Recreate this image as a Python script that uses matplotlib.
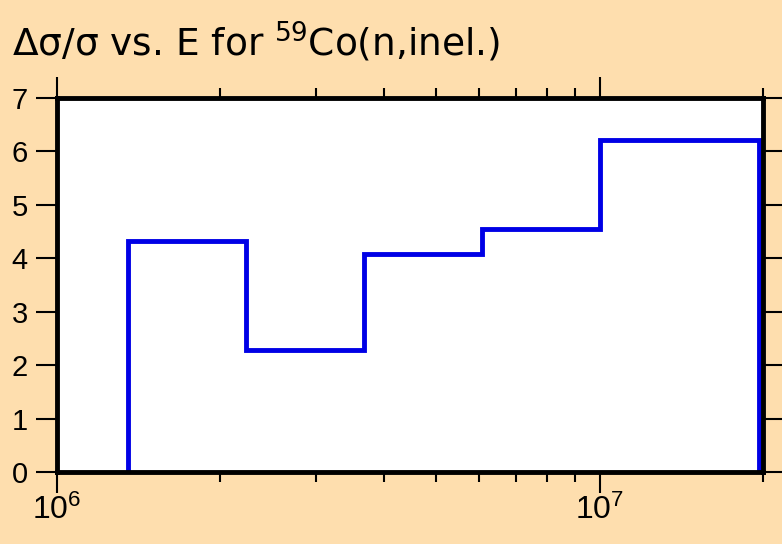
import numpy as np
import matplotlib
matplotlib.use("Agg")
import matplotlib.pyplot as plt
from matplotlib.ticker import LogLocator, LogFormatterSciNotation, NullFormatter, MultipleLocator

# energy bin edges (eV) and relative uncertainty per bin
edges = [1.354e6, 2.23e6, 3.68e6, 6.07e6, 1.0e7, 1.963e7]
rel_unc = [4.33, 2.28, 4.08, 4.55, 6.22]
x_range = (1.0e6, 2.0e7)
y_range = (0, 7)
title = "Δσ/σ vs. E for $^{59}$Co(n,inel.)"

plt.rcParams['font.family'] = ['Liberation Sans', 'DejaVu Sans']
plt.rcParams['mathtext.fontset'] = 'custom'
plt.rcParams['mathtext.rm'] = 'Liberation Sans'
plt.rcParams['mathtext.it'] = 'Liberation Sans'
plt.rcParams['mathtext.default'] = 'regular'

bg = '#fedeae'
fig = plt.figure(figsize=(7.82, 5.44), dpi=100, facecolor=bg)
ax = fig.add_axes([57/782, 72/544, 706/782, 374/544])
ax.set_facecolor('white')

ax.stairs(rel_unc, edges, baseline=0, color='#0000e6', linewidth=3.5, fill=False)

ax.set_xscale('log')
ax.set_xlim(*x_range)
ax.set_ylim(*y_range)
ax.xaxis.set_major_locator(LogLocator(base=10))
ax.xaxis.set_minor_locator(LogLocator(base=10, subs=np.arange(2, 10)))
ax.xaxis.set_major_formatter(LogFormatterSciNotation())
ax.xaxis.set_minor_formatter(NullFormatter())
ax.yaxis.set_major_locator(MultipleLocator(1))

for s in ax.spines.values():
    s.set_linewidth(3.5)
    s.set_color('black')
    s.set_zorder(3)

ax.tick_params(which='both', direction='out', top=True, right=True, width=1.5, color='black')
ax.tick_params(which='major', length=15)
ax.tick_params(which='minor', length=7.5)
ax.tick_params(axis='y', labelsize=21, pad=6)
ax.tick_params(axis='x', labelsize=23, pad=1)

fig.text(12/782, 1 - 56/544, title, fontsize=27, ha='left', va='baseline',
         fontfamily='DejaVu Sans', math_fontfamily='dejavusans')

fig.savefig("out.png", dpi=100, facecolor=bg)
